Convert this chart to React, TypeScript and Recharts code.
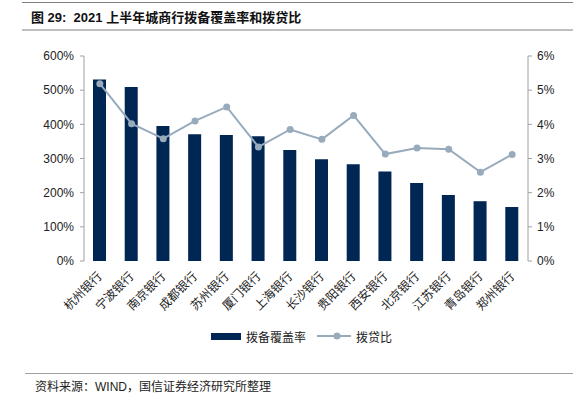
import { ComposedChart, Bar, Line, XAxis, YAxis } from "recharts";

const banks = [
  "杭州银行", "宁波银行", "南京银行", "成都银行", "苏州银行", "厦门银行", "上海银行",
  "长沙银行", "贵阳银行", "西安银行", "北京银行", "江苏银行", "青岛银行", "郑州银行",
];
// 拨备覆盖率 (%)
const coverage = [531, 509, 395, 371, 369, 365, 325, 298, 283, 262, 228, 193, 175, 158];
// 拨贷比 (%)
const provisionRatio = [5.19, 4.02, 3.58, 4.1, 4.51, 3.34, 3.85, 3.56, 4.26, 3.13, 3.31, 3.27, 2.6, 3.12];
const leftTicks = [0, 100, 200, 300, 400, 500, 600];
const rightTicks = [0, 1, 2, 3, 4, 5, 6];

const data = banks.map((name, i) => ({ name, coverage: coverage[i], ratio: provisionRatio[i] }));
const boundaries = banks.map((_, i) => i).concat(banks.length);

const NAVY = "#002654";
const GREY = "#98abbd";
const AXIS = "#a0a0a0";
const latin = "'Liberation Sans', Arial, 'Noto Sans CJK SC', sans-serif";
const cjk = "'Noto Sans CJK SC', sans-serif";

function BankTick({ x, y, payload }: any) {
  return (
    <text
      x={x + 3}
      y={y + 8}
      transform={`rotate(-45, ${x + 3}, ${y + 8})`}
      textAnchor="end"
      fontSize={12}
      fontFamily={cjk}
      fill="#222"
    >
      {payload.value}
    </text>
  );
}

export default function App() {
  return (
    <div style={{ position: "absolute", left: 0, top: 0, width: 582, height: 398, background: "#fff" }}>
      <div style={{ position: "absolute", left: 22, top: 2, width: 551, height: 1, background: "#808080" }} />
      <div
        style={{
          position: "absolute", left: 31, top: 7, fontSize: 13, fontWeight: 700,
          fontFamily: latin, color: "#111", whiteSpace: "nowrap",
        }}
      >
        图 29:&nbsp; 2021 上半年城商行拨备覆盖率和拨贷比
      </div>
      <div style={{ position: "absolute", left: 22, top: 29, width: 551, height: 2, background: "#c0c0c0" }} />

      <div style={{ position: "absolute", left: 0, top: 0 }}>
        <ComposedChart
          width={582}
          height={330}
          data={data}
          margin={{ top: 56, right: 0, bottom: 4, left: 0 }}
          barCategoryGap={0}
        >
          <XAxis
            xAxisId="bounds"
            type="number"
            domain={[0, banks.length]}
            ticks={boundaries}
            tick={false}
            tickSize={4}
            height={0}
            stroke={AXIS}
            allowDataOverflow
          />
          <XAxis
            xAxisId="cat"
            dataKey="name"
            interval={0}
            axisLine={false}
            tickLine={false}
            height={65}
            tick={<BankTick />}
          />
          <YAxis
            yAxisId="left"
            domain={[0, 600]}
            ticks={leftTicks}
            tickFormatter={(v) => `${v}%`}
            width={84}
            stroke={AXIS}
            tickSize={4}
            tickMargin={6}
            tick={{ fontSize: 12, fontFamily: latin, fill: "#222" }}
          />
          <YAxis
            yAxisId="right"
            orientation="right"
            domain={[0, 6]}
            ticks={rightTicks}
            tickFormatter={(v) => `${v}%`}
            width={54}
            stroke={AXIS}
            tickSize={4}
            tickMargin={5}
            tick={{ fontSize: 12, fontFamily: latin, fill: "#222", textAnchor: "start" }}
          />
          <Bar
            xAxisId="cat"
            yAxisId="left"
            dataKey="coverage"
            name="拨备覆盖率"
            fill={NAVY}
            barSize={13}
            isAnimationActive={false}
          />
          <Line
            xAxisId="cat"
            yAxisId="right"
            dataKey="ratio"
            name="拨贷比"
            stroke={GREY}
            strokeWidth={2}
            dot={{ r: 3.5, fill: GREY, stroke: GREY, strokeWidth: 0 }}
            isAnimationActive={false}
          />
        </ComposedChart>
      </div>

      <div
        style={{
          position: "absolute", left: 211, top: 328, display: "flex", alignItems: "center",
          fontSize: 12, fontFamily: cjk, color: "#222", whiteSpace: "nowrap", height: 16,
        }}
      >
        <span style={{ display: "inline-block", width: 30, height: 7, background: NAVY }} />
        <span style={{ marginLeft: 5 }}>拨备覆盖率</span>
        <svg width={34} height={10} style={{ marginLeft: 11 }}>
          <line x1={0} y1={5} x2={34} y2={5} stroke={GREY} strokeWidth={2} />
          <circle cx={20} cy={5} r={3.5} fill={GREY} />
        </svg>
        <span style={{ marginLeft: 5 }}>拨贷比</span>
      </div>

      <div style={{ position: "absolute", left: 25, top: 373, width: 548, height: 1, background: "#a0a0a0" }} />
      <div
        style={{
          position: "absolute", left: 35, top: 377, fontSize: 12, fontFamily: latin,
          color: "#222", whiteSpace: "nowrap",
        }}
      >
        资料来源：WIND，国信证券经济研究所整理
      </div>
    </div>
  );
}
